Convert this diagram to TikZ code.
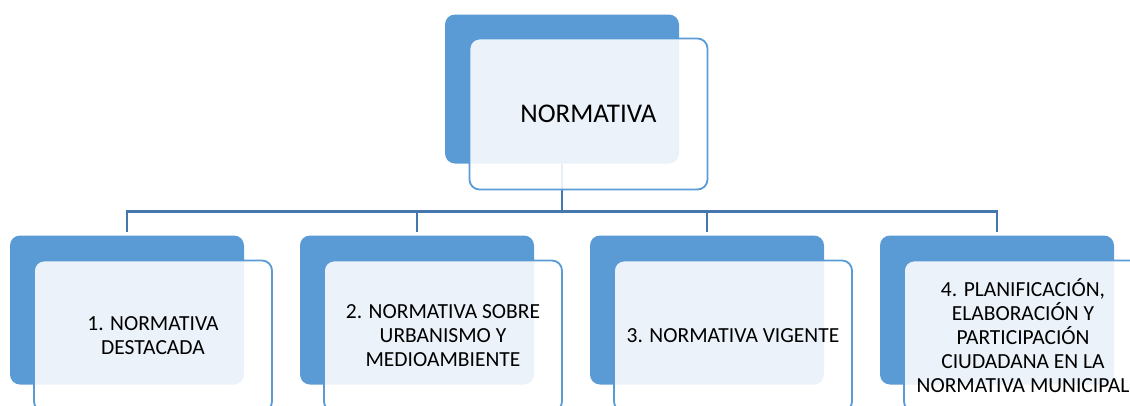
\documentclass[tikz,border=0pt]{standalone}
\usepackage{fontspec}
\setmainfont{Carlito}
\definecolor{boxblue}{HTML}{5B9BD5}
\definecolor{linkblue}{HTML}{4577AD}

\begin{document}
\begin{tikzpicture}[x=1pt,y=-1pt,
  back/.style={rectangle,rounded corners=10pt,fill=boxblue,minimum width=234pt,minimum height=149pt,inner sep=0pt},
  front/.style={rectangle,rounded corners=10pt,draw=boxblue,line width=1.8pt,fill=white,fill opacity=0.88,text opacity=1,text=black,minimum width=238pt,minimum height=151pt,inner sep=0pt,align=center,font=\fontsize{21.5}{24}\selectfont},
  link/.style={draw=linkblue,line width=2.8pt}]
\useasboundingbox (0,0) rectangle (1130,405);
\node[back] (b0) at (562,89) {};
\node[back] (b1) at (127,310) {};
\node[back] (b2) at (417,310) {};
\node[back] (b3) at (707,310) {};
\node[back] (b4) at (997,310) {};
\coordinate (bar) at (562,211.5);
\draw[link] (b0.south) -- (bar);
\draw[link,shorten >=3pt] (bar) -| (b1.north);
\draw[link,shorten >=3pt] (bar) -| (b2.north);
\draw[link,shorten >=3pt] (bar) -| (b3.north);
\draw[link,shorten >=3pt] (bar) -| (b4.north);
\node[front,font=\fontsize{27}{30}\selectfont] (f0) at ([shift={(26.5,25)}]b0) {NORMATIVA};
\node[front] (f1) at ([shift={(26,26)}]b1) {1. NORMATIVA\\DESTACADA};
\node[front] (f2) at ([shift={(26,26)}]b2) {2. NORMATIVA SOBRE\\URBANISMO Y\\MEDIOAMBIENTE};
\node[front] (f3) at ([shift={(26,26)}]b3) {3. NORMATIVA VIGENTE};
\node[front] (f4) at ([shift={(26,26)}]b4) {4. PLANIFICACIÓN,\\ELABORACIÓN Y\\PARTICIPACIÓN\\CIUDADANA EN LA\\NORMATIVA MUNICIPAL};
\end{tikzpicture}
\end{document}
